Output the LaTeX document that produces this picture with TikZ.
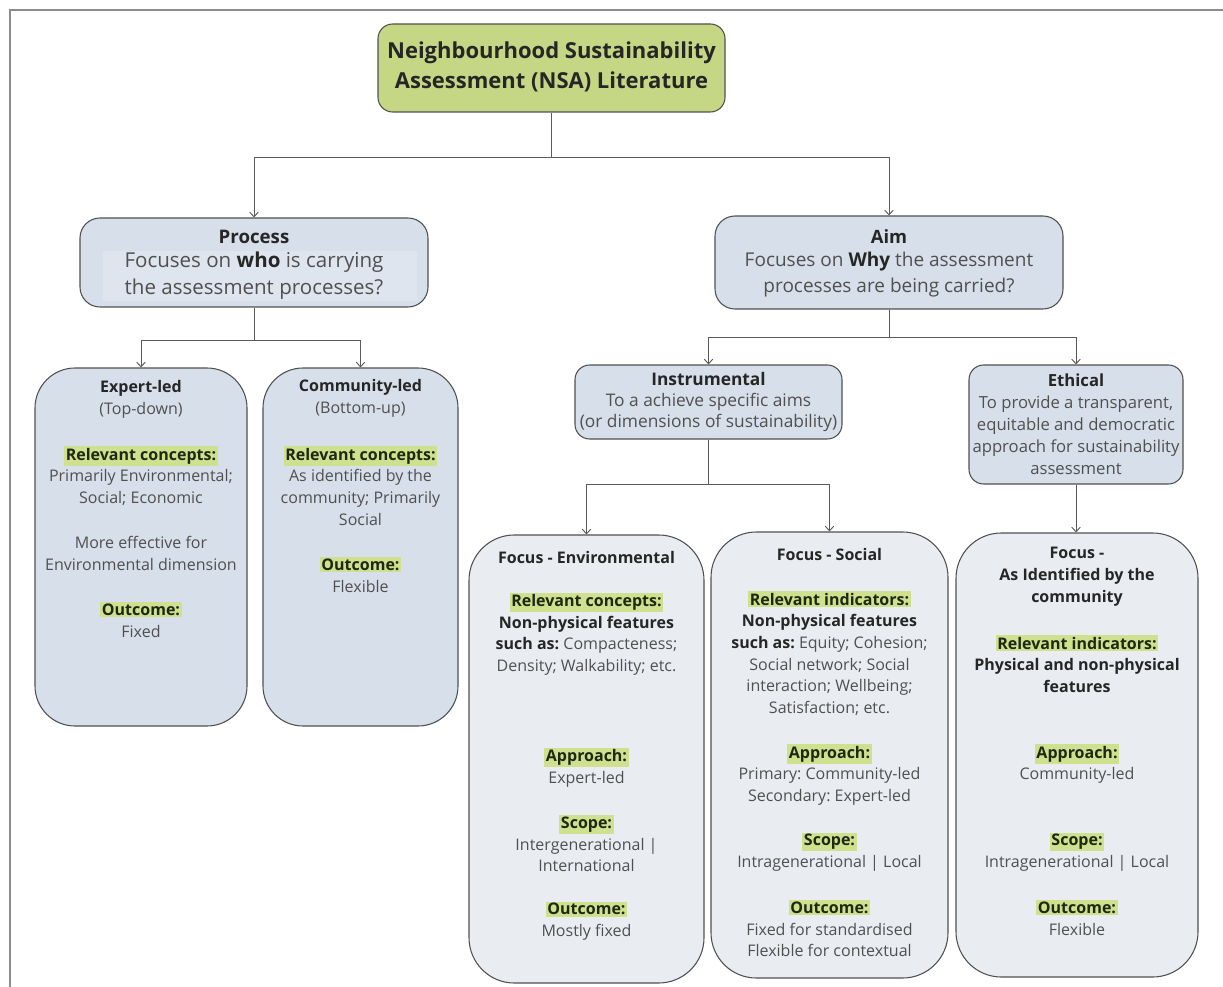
\documentclass[tikz,border=0pt]{standalone}
\usepackage{fontspec}
\setmainfont{Open Sans}
\usetikzlibrary{arrows.meta,fit}
\definecolor{topgreen}{RGB}{197,215,133}
\definecolor{bluefill}{RGB}{214,223,234}
\definecolor{procbg}{RGB}{222,229,238}
\definecolor{lightfill}{RGB}{233,237,242}
\definecolor{hlgreen}{RGB}{207,224,142}
\definecolor{textgrey}{RGB}{80,80,80}
\definecolor{titledark}{RGB}{38,38,38}
\definecolor{labeldark}{RGB}{30,40,18}
\definecolor{boxline}{RGB}{80,80,80}
\definecolor{connline}{RGB}{90,90,90}
\definecolor{framegrey}{RGB}{140,140,140}
\newcommand\hlt[1]{{\setlength{\fboxsep}{1.2pt}\colorbox{hlgreen}{\textcolor{labeldark}{\textbf{#1}}}}}
\newcommand\ttl[1]{\textcolor{titledark}{\textbf{#1}}}
\frenchspacing
\tikzset{
  boxbase/.style={draw=boxline, line width=0.8pt, inner sep=0pt},
  topbox/.style={boxbase, fill=topgreen, rounded corners=11pt},
  midbox/.style={boxbase, fill=bluefill, rounded corners=15pt},
  smallbox/.style={boxbase, fill=bluefill, rounded corners=11pt},
  tallbox/.style={boxbase, fill=bluefill, rounded corners=30pt},
  lightbox/.style={boxbase, fill=lightfill, rounded corners=34pt},
  txt/.style={align=center, inner sep=0pt, text=textgrey, font=\fontsize{12}{16.3}\selectfont\frenchspacing},
  conn/.style={draw=connline, line width=0.7pt},
  arrow/.style={conn, -{Straight Barb[length=3.5pt,width=6.5pt]}},
  frameline/.style={draw=framegrey, line width=1.5pt}
}
\begin{document}
\begin{tikzpicture}[x=0.75pt,y=-0.75pt]
\useasboundingbox (0,0) rectangle (1223,987);
% frame
\draw[frameline] (9,10) -- (1223,10);
\draw[frameline] (10,10) -- (10,987);

% boxes
\node[topbox, fit={(378,24) (725,112)}] (top) {};
\node[midbox, fit={(80,218) (428,307)}] (process) {};
\node[midbox, fit={(715,216) (1063,309)}] (aim) {};
\node[tallbox, fit={(35,368) (247,726)}] (expert) {};
\node[tallbox, fit={(263,368) (458,726)}] (community) {};
\node[smallbox, fit={(575,365) (842,439)}] (instr) {};
\node[smallbox, fit={(969,365) (1183,484)}] (ethical) {};
\node[lightbox, fit={(469,535) (704,983)}] (env) {};
\node[lightbox, fit={(711,532) (948,978)}] (social) {};
\node[lightbox, fit={(956,533) (1198,977)}] (comfocus) {};
\fill[procbg] (103,251) rectangle (417,301);

% connectors
\coordinate (j1) at (551.5,157);
\draw[conn] (top.south) -- (j1);
\draw[arrow] (j1) -| (process.north);
\draw[arrow] (j1) -| (aim.north);
\coordinate (j2) at (254,340);
\draw[conn] (process.south) -- (j2);
\draw[arrow] (j2) -| (expert.north);
\draw[arrow] (j2) -| (community.north);
\coordinate (j3) at (889,337);
\draw[conn] (aim.south) -- (j3);
\draw[arrow] (j3) -| (instr.north);
\draw[arrow] (j3) -| (ethical.north);
\coordinate (j4) at (708.5,484);
\draw[conn] (instr.south) -- (j4);
\draw[arrow] (j4) -| (env.north);
\draw[arrow] (j4) -| (social.north);
\draw[arrow] (ethical.south) -- (ethical.south |- comfocus.north);

% top text
\node[txt, text=titledark, font=\fontsize{16.5}{22.5}\selectfont\bfseries] (toptxt) at (551.5,67) {Neighbourhood Sustainability\\Assessment (NSA) Literature};

% process
\node[txt, text=titledark, font=\fontsize{14}{16}\selectfont\bfseries] (ptitle) at (254,237) {Process};
\node[txt, font=\fontsize{15.4}{20.25}\selectfont] (pbody) at (254,276) {Focuses on \textbf{\textcolor{titledark}{who}} is carrying\\the assessment processes?};

% aim
\node[txt, text=titledark, font=\fontsize{13.75}{16}\selectfont\bfseries] (atitle) at (889,237) {Aim};
\node[txt, font=\fontsize{14.25}{19.5}\selectfont] (abody) at (889,275) {Focuses on \textbf{\textcolor{titledark}{Why}} the assessment\\processes are being carried?};

% expert-led
\node[txt] (e1) at (141,399) {\ttl{Expert-led}\\(Top-down)};
\node[txt] (e2) at (141,476) {\hlt{Relevant concepts:}\\Primarily Environmental;\\Social; Economic};
\node[txt] (e3) at (141,553.5) {More effective for\\Environmental dimension};
\node[txt] (e4) at (141,620) {\hlt{Outcome:}\\Fixed};

% community-led
\node[txt] (c1) at (360.5,398.5) {\ttl{Community-led}\\(Bottom-up)};
\node[txt] (c2) at (360.5,486) {\hlt{Relevant concepts:}\\As identified by the\\community; Primarily\\Social};
\node[txt] (c3) at (360.5,575) {\hlt{Outcome:}\\Flexible};

% instrumental
\node[txt, font=\fontsize{13}{15.75}\selectfont] (i1) at (708.5,402) {\ttl{Instrumental}\\To a achieve specific aims\\(or dimensions of sustainability)};

% ethical
\node[txt, font=\fontsize{12.5}{16.5}\selectfont] (t1) at (1076,424) {\ttl{Ethical}\\To provide a transparent,\\equitable and democratic\\approach for sustainability\\assessment};

% environmental
\node[txt] (v1) at (586.5,557) {\ttl{Focus - Environmental}};
\node[txt] (v2) at (586.5,634) {\hlt{Relevant concepts:}\\\ttl{Non-physical features}\\\ttl{such as:} Compacteness;\\Density; Walkability; etc.};
\node[txt] (v3) at (586.5,767.5) {\hlt{Approach:}\\Expert-led};
\node[txt] (v4) at (586.5,843.5) {\hlt{Scope:}\\Intergenerational |\\International};
\node[txt] (v5) at (586.5,921) {\hlt{Outcome:}\\Mostly fixed};

% social
\node[txt] (s1) at (829.5,554) {\ttl{Focus - Social}};
\node[txt] (s2) at (829.5,653.5) {\hlt{Relevant indicators:}\\\ttl{Non-physical features}\\\ttl{such as:} Equity; Cohesion;\\Social network; Social\\interaction; Wellbeing;\\Satisfaction; etc.};
\node[txt] (s3) at (829.5,775) {\hlt{Approach:}\\Primary: Community-led\\Secondary: Expert-led};
\node[txt] (s4) at (829.5,852) {\hlt{Scope:}\\Intragenerational | Local};
\node[txt] (s5) at (829.5,928.5) {\hlt{Outcome:}\\Fixed for standardised\\Flexible for contextual};

% community focus
\node[txt] (f1) at (1077,576.5) {\ttl{Focus -}\\\ttl{As Identified by the}\\\ttl{community}};
\node[txt] (f2) at (1077,664) {\hlt{Relevant indicators:}\\\ttl{Physical and non-physical}\\\ttl{features}};
\node[txt] (f3) at (1077,764) {\hlt{Approach:}\\Community-led};
\node[txt] (f4) at (1077,852) {\hlt{Scope:}\\Intragenerational | Local};
\node[txt] (f5) at (1077,918) {\hlt{Outcome:}\\Flexible};
\end{tikzpicture}
\end{document}
